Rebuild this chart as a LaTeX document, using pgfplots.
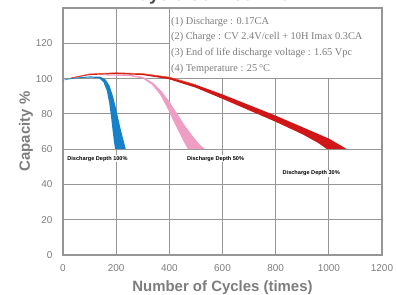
\documentclass[border=0pt]{standalone}
\usepackage{pgfplots}
\pgfplotsset{compat=1.18}
\usepackage{fontspec}
\setmainfont{Liberation Sans}
\newfontfamily\serif{Liberation Serif}
\definecolor{cblue}{RGB}{22,128,200}
\definecolor{cpink}{RGB}{238,158,195}
\definecolor{cred}{RGB}{208,22,22}
\definecolor{credtop}{RGB}{236,80,45}
\definecolor{cgrid}{RGB}{150,150,150}
\definecolor{ctxt}{RGB}{125,125,125}
\begin{document}
\begin{tikzpicture}
\begin{axis}[
  scale only axis, width=319bp, height=247bp,
  xmin=0, xmax=1200, ymin=0, ymax=140,
  xtick={0,200,...,1200}, ytick={0,20,...,120},
  grid=major,
  major grid style={cgrid, line width=1.1bp},
  axis line style={cgrid, line width=1.1bp},
  major tick length=0pt,
  /pgf/number format/assume math mode=true,
  /pgf/number format/1000 sep={},
  tick label style={font=\fontsize{10}{12}\selectfont, text=ctxt},
  yticklabel style={xshift=-7bp},
  xticklabel style={yshift=-6bp},
  xlabel={Number of Cycles (times)},
  ylabel={Capacity \%},
  label style={font=\bfseries\fontsize{15}{18}\selectfont, text=ctxt},
  xlabel style={yshift=-2bp},
  ylabel style={yshift=-4bp},
  clip=false,
]
% info box
\draw[cgrid, line width=1.1bp, fill=white] (axis cs:400,100) rectangle (axis cs:1200,140);
\node[anchor=north west, text=ctxt, font=\serif\fontsize{10.4}{15.8}\selectfont, align=left, inner sep=0pt]
  at (axis cs:406,135) {(1) Discharge : 0.17CA\\
(2) Charge : CV 2.4V/cell + 10H Imax 0.3CA\\
(3) End of life discharge voltage : 1.65 Vpc\\
(4) Temperature : 25\,°C};
% pink band (50%)
\addplot[fill=cpink, draw=none] coordinates {
 (150,102.3)(250,102.2)(300,101)(340,97.5)(370,93)(400,87)(430,80)(460,73)(490,67)(515,62.5)(534,60)
 (470,60)(455,64)(435,70)(412,77)(390,84)(365,91)(335,96.5)(300,100)(250,101.4)(150,101.8)} -- cycle;
% blue band (100%)
\addplot[fill=cblue, draw=none] coordinates {
 (0,99.2)(25,100)(50,100.6)(100,101.2)(140,101.1)(160,99.5)(175,96)(188,90)(198,84)(207,78)(216,72)(226,66)(236,60)
 (196,60)(192,64)(187,70)(181,78)(174,86)(165,93)(152,98)(135,100.3)(100,100.6)(50,100.1)(25,99.6)(0,99)} -- cycle;
% red band (30%)
\addplot[fill=cred, draw=none] coordinates {
 (30,100.4)(100,102.6)(200,103.3)(300,102.8)(400,100.8)(500,96.5)(600,91)(700,85)(800,79)(900,72.5)(1000,66)(1040,62.5)(1068,60)
 (993,60)(960,63.5)(900,68.5)(800,75.5)(700,82)(600,88.5)(500,94.8)(400,99.6)(300,102)(200,102.6)(100,102)(30,100.2)} -- cycle;
\addplot[credtop, line width=0.6bp] coordinates {
 (30,100.4)(100,102.6)(200,103.3)(300,102.8)(400,100.8)(500,96.5)};
% labels
\node[anchor=west, fill=white, inner sep=1pt, font=\bfseries\fontsize{5.6}{6}\selectfont] at (axis cs:12,54.5) {Discharge Depth 100\%};
\node[anchor=west, fill=white, inner sep=1pt, font=\bfseries\fontsize{5.6}{6}\selectfont] at (axis cs:462,54.5) {Discharge Depth 50\%};
\node[anchor=west, fill=white, inner sep=1pt, font=\bfseries\fontsize{5.6}{6}\selectfont] at (axis cs:822,46.4) {Discharge Depth 30\%};
\coordinate (bl) at (rel axis cs:0,0);
\coordinate (tr) at (rel axis cs:1,1);
\node[anchor=base, font=\bfseries\fontsize{18}{20}\selectfont, text=ctxt!60!black] at (rel axis cs:0.47,1) [yshift=7bp] {Cycle Service Life};
\end{axis}
\pgfresetboundingbox
\path[use as bounding box] ([xshift=-63bp,yshift=-40bp]bl) rectangle ([xshift=15bp,yshift=8bp]tr);
\end{tikzpicture}
\end{document}
